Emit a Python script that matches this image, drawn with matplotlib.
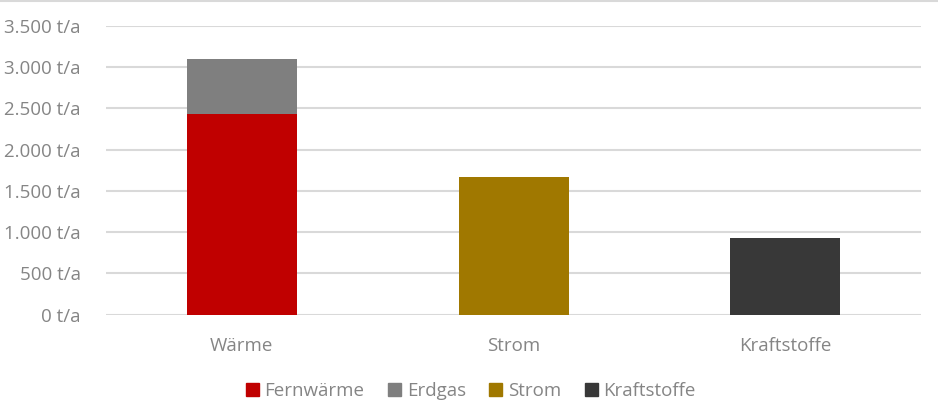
import matplotlib.pyplot as plt
from matplotlib.patches import Patch
from matplotlib.lines import Line2D

categories = ["Wärme", "Strom", "Kraftstoffe"]
fernwaerme = [2430, 0, 0]
erdgas = [670, 0, 0]
strom = [0, 1670, 0]
kraftstoffe = [0, 0, 930]
series_names = ["Fernwärme", "Erdgas", "Strom", "Kraftstoffe"]
colors = ["#c00000", "#7f7f7f", "#a07800", "#383838"]
yticks = [0, 500, 1000, 1500, 2000, 2500, 3000, 3500]

plt.rcParams['font.family'] = ['Open Sans', 'DejaVu Sans']
text_color = "#858585"

fig = plt.figure(figsize=(9.38, 4.17), dpi=100)
ax = fig.add_axes([0.113, 0.2453, 0.869, 0.6931])

x = list(range(len(categories)))
width = 0.405
bottom = [0] * len(categories)
for name, vals, col in zip(series_names, [fernwaerme, erdgas, strom, kraftstoffe], colors):
    ax.bar(x, vals, width, bottom=bottom, color=col, label=name, zorder=3)
    bottom = [b + v for b, v in zip(bottom, vals)]

ax.set_xlim(-0.5, 2.5)
ax.set_ylim(0, 3500)
ax.set_yticks(yticks)
ax.set_yticklabels([f"{v:,}".replace(",", ".") + " t/a" for v in yticks])
ax.set_xticks(x)
ax.set_xticklabels(categories)
ax.tick_params(axis='both', length=0, labelsize=13.5, colors=text_color)
ax.tick_params(axis='x', pad=16)
ax.tick_params(axis='y', pad=18)
ax.grid(axis='y', color="#d9d9d9", linewidth=1.5, zorder=0)
for s in ax.spines.values():
    s.set_visible(False)

handles = [Patch(color=c) for c in colors]
leg = fig.legend(handles, series_names, loc='center', bbox_to_anchor=(0.502, 0.062),
                 ncol=4, frameon=False, fontsize=13.5, handlelength=0.7,
                 handleheight=0.7, handletextpad=0.3, columnspacing=1.25)
for t in leg.get_texts():
    t.set_color(text_color)

fig.add_artist(Line2D([0, 1], [0.998, 0.998], transform=fig.transFigure,
                      color="#d9d9d9", linewidth=1.5))

fig.savefig("out.png", dpi=100)
